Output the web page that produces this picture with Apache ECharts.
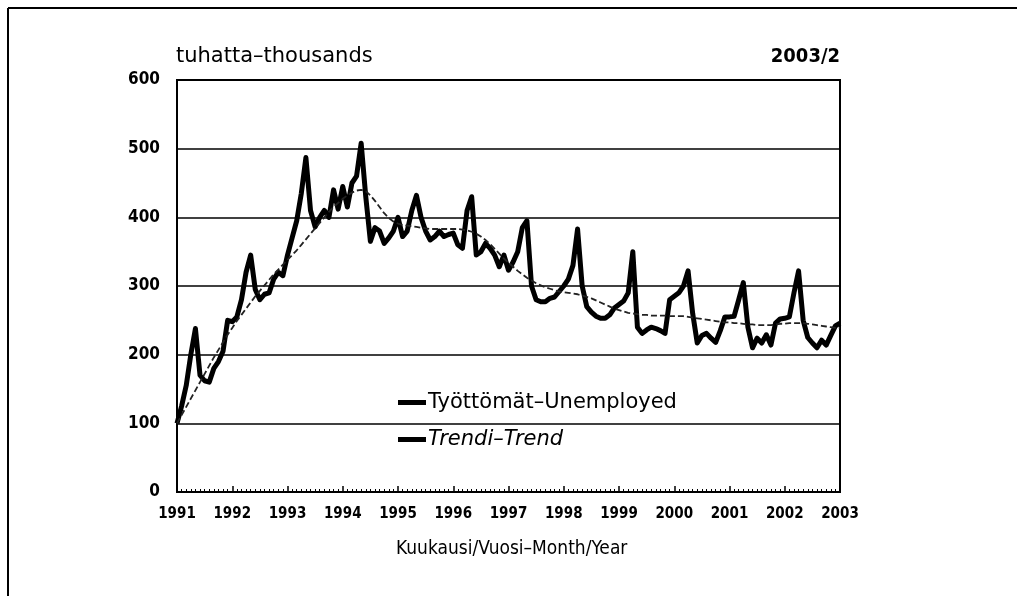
<!DOCTYPE html>
<html>
<head>
<meta charset="utf-8">
<script src="https://cdn.jsdelivr.net/npm/echarts@6/dist/echarts.min.js"></script>
<style>
  html, body { margin: 0; padding: 0; background: #fff; }
  #chart { width: 1017px; height: 596px; }
</style>
</head>
<body>
<div id="chart"></div>
<script>
// month index 0 = Jan 1991 ... 144 = Jan 2003
const yearLabels = ['1991', '1992', '1993', '1994', '1995', '1996', '1997',
                    '1998', '1999', '2000', '2001', '2002', '2003']

// työttömät (thousands), monthly
const unemployed = [
  100, 125, 155, 200, 238, 170, 162, 160, 180, 190, 205, 250,   // 1991
  248, 255, 280, 320, 345, 295, 280, 288, 290, 310, 320, 315,   // 1992
  345, 370, 395, 435, 487, 410, 386, 400, 410, 400, 440, 412,   // 1993
  445, 415, 450, 460, 508, 430, 365, 385, 380, 362, 370, 380,   // 1994
  400, 372, 380, 410, 432, 400, 380, 367, 372, 380, 372, 375,   // 1995
  377, 360, 355, 410, 430, 345, 350, 362, 355, 345, 328, 345,   // 1996
  323, 335, 350, 385, 395, 300, 280, 277, 277, 282, 284, 292,   // 1997
  300, 310, 330, 383, 300, 270, 262, 256, 253, 253, 258, 268,   // 1998
  273, 278, 290, 350, 240, 231, 236, 240, 238, 235, 231, 280,   // 1999
  285, 290, 300, 322, 260, 217, 228, 231, 224, 218, 235, 255,   // 2000
  255, 256, 280, 305, 240, 210, 224, 217, 229, 214, 246, 252,   // 2001
  253, 255, 290, 322, 250, 225, 217, 210, 221, 214, 228, 242,   // 2002
  246                                                           // 2003
]

// trendi
const trend = [
  100, 112, 124, 136, 148, 160, 172, 184, 196, 207, 218, 229,
  239, 249, 258, 267, 276, 285, 293, 301, 309, 317, 324, 331,
  338, 345, 352, 360, 368, 376, 384, 392, 400, 408, 415, 421,
  427, 432, 436, 439, 440, 438, 432, 424, 415, 406, 399, 394,
  391, 389, 388, 387, 386, 385, 384, 383, 383, 383, 383, 383,
  383, 383, 382, 381, 379, 376, 372, 367, 361, 354, 347, 340,
  334, 328, 322, 317, 312, 308, 304, 301, 298, 296, 294, 292,
  291, 290, 289, 288, 286, 284, 282, 279, 276, 273, 270, 267,
  265, 263, 261, 260, 259, 258, 258, 257, 257, 257, 257, 256,
  256, 256, 256, 255, 254, 253, 252, 251, 250, 249, 248, 247,
  247, 246, 246, 245, 244, 244, 243, 243, 243, 243, 244, 245,
  245, 246, 246, 246, 246, 245, 244, 243, 242, 241, 240, 239,
  239
]

const COND = '"DejaVu Sans Condensed", "DejaVu Sans", sans-serif'
const WIDE = '"DejaVu Sans", sans-serif'

const chart = echarts.init(document.getElementById('chart'))

chart.setOption({
  backgroundColor: '#fff',
  animation: false,
  grid: {
    left: 177, right: 177, top: 80, bottom: 104,
    show: true, borderColor: '#000', borderWidth: 2, backgroundColor: 'transparent'
  },
  legend: {
    orient: 'vertical',
    left: 398, top: 392, padding: 0,
    itemGap: 16,
    itemWidth: 28, itemHeight: 5,
    icon: 'rect',
    textStyle: { color: '#000', fontSize: 21, fontFamily: WIDE, padding: [0, 0, 0, -3] },
    data: [
      { name: 'Työttömät–Unemployed', itemStyle: { color: '#000' } },
      { name: 'Trendi–Trend', itemStyle: { color: '#000' }, textStyle: { fontStyle: 'italic' } }
    ]
  },
  xAxis: {
    type: 'value',
    min: 0, max: 144, interval: 12,
    axisLine: { show: true, lineStyle: { color: '#000', width: 2 } },
    axisTick: { show: true, inside: true, length: 6, lineStyle: { color: '#000', width: 1.5 } },
    minorTick: { show: true, splitNumber: 12, length: 3, lineStyle: { color: '#000', width: 1 } },
    splitLine: { show: false },
    axisLabel: {
      color: '#000', fontSize: 15, fontWeight: 'bold', fontFamily: COND, margin: 15,
      formatter: (v) => yearLabels[v / 12]
    }
  },
  yAxis: {
    type: 'value',
    min: 0, max: 600, interval: 100,
    axisLine: { show: true, lineStyle: { color: '#000', width: 2 } },
    axisTick: { show: false },
    splitLine: { lineStyle: { color: '#000', width: 1.5 } },
    axisLabel: { color: '#000', fontSize: 17, fontWeight: 'bold', fontFamily: COND, margin: 17 }
  },
  series: [
    {
      name: 'Työttömät–Unemployed',
      type: 'line',
      data: unemployed.map((v, i) => [i, v]),
      showSymbol: false,
      lineStyle: { color: '#000', width: 5, join: 'round' },
      z: 3
    },
    {
      name: 'Trendi–Trend',
      type: 'line',
      data: trend.map((v, i) => [i, v]),
      showSymbol: false,
      lineStyle: { color: '#222', width: 1.8, type: [6, 3] },
      z: 4
    }
  ],
  graphic: [
    { type: 'line', shape: { x1: 8, y1: 8, x2: 1017, y2: 8 }, style: { stroke: '#000', lineWidth: 2 } },
    { type: 'line', shape: { x1: 8, y1: 8, x2: 8, y2: 596 }, style: { stroke: '#000', lineWidth: 2 } },
    {
      type: 'text', left: 176, top: 46,
      style: { text: 'tuhatta–thousands', fill: '#000', font: '21px ' + WIDE }
    },
    {
      type: 'text', right: 177, top: 47,
      style: { text: '2003/2', fill: '#000', font: 'bold 20px ' + COND }
    },
    {
      type: 'text', left: 396, top: 540,
      style: { text: 'Kuukausi/Vuosi–Month/Year', fill: '#000', font: '19px ' + COND }
    }
  ]
})
</script>
</body>
</html>
